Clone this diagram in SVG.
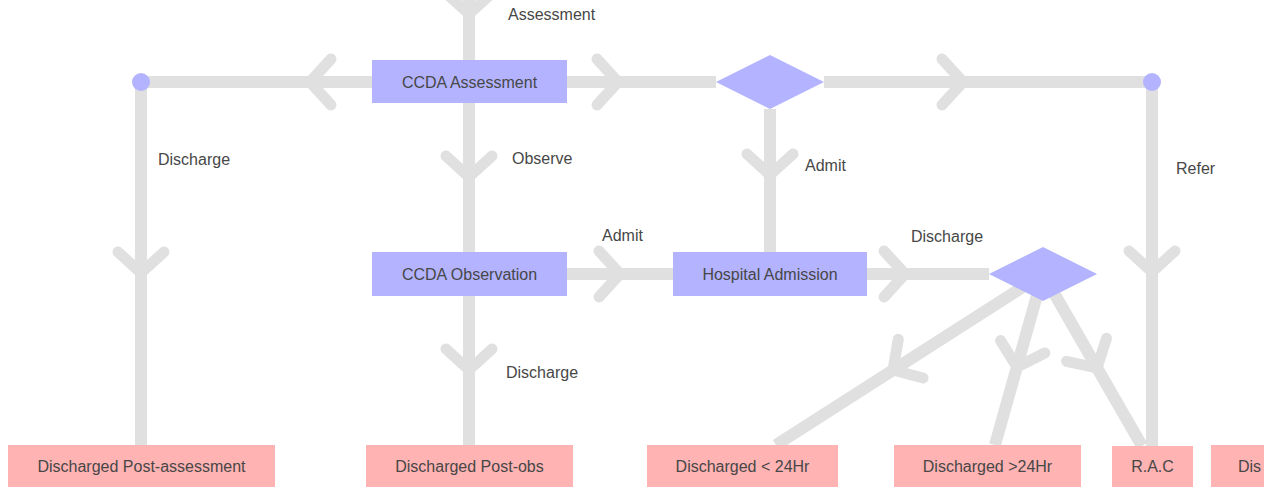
<svg xmlns="http://www.w3.org/2000/svg" xmlns:xlink="http://www.w3.org/1999/xlink" width="1271" height="488" viewBox="0 0 1271 488">
<style>
.ln{fill:none;stroke:#e0e0e0;stroke-width:12}
.ch{fill:none;stroke:#e0e0e0;stroke-width:11;stroke-linecap:round;stroke-linejoin:round}
.bl{fill:#b3b3ff}
.pk{fill:#ffb3b3}
.t{font-family:"Liberation Sans",Arial,sans-serif;font-size:16px;fill:#474747;text-anchor:middle}
.lb{font-family:"Liberation Sans",Arial,sans-serif;font-size:16px;fill:#474747}
</style>
<defs>
<path id="chev" d="M-21,-23 L0,0 L-21,23"/>
</defs>
<rect width="1271" height="488" fill="#ffffff"/>
<g id="connectors">
<path class="ln" d="M469,-10 V60"/>
<use href="#chev" class="ch" transform="translate(469,14) rotate(90)"/>
<path class="ln" d="M372,82 H141 V445"/>
<use href="#chev" class="ch" transform="translate(310,82) rotate(180)"/>
<use href="#chev" class="ch" transform="translate(141,273) rotate(90)"/>
<path class="ln" d="M567,82 H716"/>
<use href="#chev" class="ch" transform="translate(618,82)"/>
<path class="ln" d="M824,82 H1152 V446"/>
<use href="#chev" class="ch" transform="translate(963,82)"/>
<use href="#chev" class="ch" transform="translate(1152,272) rotate(90)"/>
<path class="ln" d="M770,109 V252"/>
<use href="#chev" class="ch" transform="translate(770,175) rotate(90)"/>
<path class="ln" d="M469,103 V252"/>
<use href="#chev" class="ch" transform="translate(469,177) rotate(90)"/>
<path class="ln" d="M567,274 H673"/>
<use href="#chev" class="ch" transform="translate(620,274)"/>
<path class="ln" d="M469,296 V445"/>
<use href="#chev" class="ch" transform="translate(469,370) rotate(90)"/>
<path class="ln" d="M867,274 H989"/>
<use href="#chev" class="ch" transform="translate(905,274)"/>
<path class="ln" d="M1043,274 L776,445"/>
<use href="#chev" class="ch" transform="translate(893,370) rotate(147.4)"/>
<path class="ln" d="M1043,274 L995,445"/>
<use href="#chev" class="ch" transform="translate(1017,367) rotate(105.7)"/>
<path class="ln" d="M1043,274 L1142,446"/>
<use href="#chev" class="ch" transform="translate(1097,368) rotate(60.1)"/>
</g>
<g id="labels">
<text class="lb" x="508" y="20">Assessment</text>
<text class="lb" x="158" y="165">Discharge</text>
<text class="lb" x="512" y="164">Observe</text>
<text class="lb" x="805" y="171">Admit</text>
<text class="lb" x="1176" y="174">Refer</text>
<text class="lb" x="602" y="241">Admit</text>
<text class="lb" x="911" y="242">Discharge</text>
<text class="lb" x="506" y="378">Discharge</text>
</g>
<g id="dot-left"><circle class="bl" cx="141" cy="82" r="9"/></g>
<g id="dot-right"><circle class="bl" cx="1152" cy="82" r="9"/></g>
<g id="ccda-assessment"><rect class="bl" x="372" y="60" width="195" height="43"/><text class="t" x="469.5" y="88">CCDA Assessment</text></g>
<g id="decision-1"><polygon class="bl" points="716,82 770,55 824,82 770,109"/></g>
<g id="ccda-observation"><rect class="bl" x="372" y="252" width="195" height="44"/><text class="t" x="469.5" y="280">CCDA Observation</text></g>
<g id="hospital-admission"><rect class="bl" x="673" y="252" width="194" height="44"/><text class="t" x="770" y="280">Hospital Admission</text></g>
<g id="decision-2"><polygon class="bl" points="989,274 1043,247 1097,274 1043,301"/></g>
<g id="discharged-post-assessment"><rect class="pk" x="8" y="445" width="267" height="42"/><text class="t" x="141.5" y="472">Discharged Post-assessment</text></g>
<g id="discharged-post-obs"><rect class="pk" x="366" y="445" width="207" height="42"/><text class="t" x="469.5" y="472">Discharged Post-obs</text></g>
<g id="discharged-lt-24hr"><rect class="pk" x="647" y="445" width="191" height="42"/><text class="t" x="742.5" y="472">Discharged &lt; 24Hr</text></g>
<g id="discharged-gt-24hr"><rect class="pk" x="894" y="445" width="187" height="42"/><text class="t" x="987.5" y="472">Discharged &gt;24Hr</text></g>
<g id="rac"><rect class="pk" x="1112" y="446" width="81" height="41"/><text class="t" x="1152.5" y="472">R.A.C</text></g>
<g id="discharged-cut"><rect class="pk" x="1211" y="445" width="53" height="42"/><text class="lb" x="1238" y="472">Dis</text></g>
</svg>
